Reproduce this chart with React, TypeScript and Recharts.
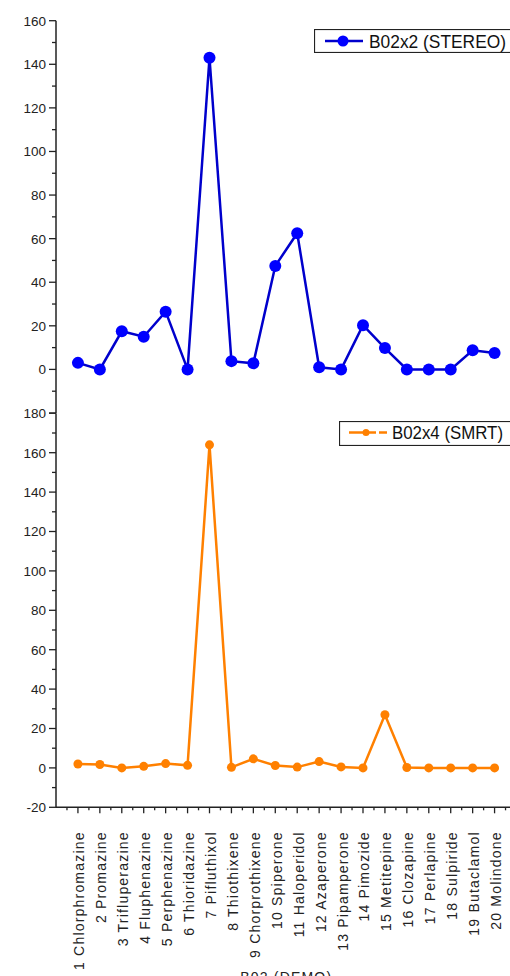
import React from 'react';
import { LineChart, Line, XAxis, YAxis, Legend } from 'recharts';

const categories = [
  '1 Chlorphromazine',
  '2 Promazine',
  '3 Trifluperazine',
  '4 Fluphenazine',
  '5 Perphenazine',
  '6 Thioridazine',
  '7 Pifluthixol',
  '8 Thiothixene',
  '9 Chorprothixene',
  '10 Spiperone',
  '11 Haloperidol',
  '12 Azaperone',
  '13 Pipamperone',
  '14 Pimozide',
  '15 Metitepine',
  '16 Clozapine',
  '17 Perlapine',
  '18 Sulpiride',
  '19 Butaclamol',
  '20 Molindone',
];

const stereoValues = [3, 0, 17.5, 15, 26.5, 0, 143, 3.8, 2.8, 47.5, 62.5, 1, 0, 20.3, 9.8, 0, 0, 0, 8.8, 7.5];
const smrtValues = [2, 1.7, 0, 0.8, 2.2, 1.3, 164, 0.3, 4.6, 1.2, 0.4, 3.2, 0.5, 0, 27, 0.2, 0, 0, 0, 0];

const stereoName = 'B02x2 (STEREO)';
const smrtName = 'B02x4 (SMRT)';
const xTitle = 'B02 (DEMO)';

const topYTicks = [-20, -10, 0, 10, 20, 30, 40, 50, 60, 70, 80, 90, 100, 110, 120, 130, 140, 150, 160];
const bottomYTicks = [-20, -10, 0, 10, 20, 30, 40, 50, 60, 70, 80, 90, 100, 110, 120, 130, 140, 150, 160, 170, 180];

const data = categories.map((name, i) => ({
  x: i + 1,
  name,
  stereo: stereoValues[i],
  smrt: smrtValues[i],
}));

const xTicks = [...categories.flatMap((_, i) => [i + 0.5, i + 1]), categories.length + 0.5];

const FONT = '"Liberation Sans", Arial, sans-serif';
const INK = '#222';
const BLUE_LINE = '#0000cc';
const BLUE = '#0000ff';
const ORANGE = '#ff8000';

const YTick = (props: any) => {
  const { x, y, payload, minLabel } = props;
  const v = payload.value;
  const major = v % 20 === 0;
  const len = major ? 7 : 4;
  const showLabel = major && v >= minLabel;
  return (
    <g>
      <line x1={x - len} x2={x} y1={y} y2={y} stroke={INK} strokeWidth={1.3} />
      {showLabel && (
        <text x={x - 10} y={y} dy="0.36em" textAnchor="end" fontSize={13.5} fontFamily={FONT} fill={INK}>
          {v}
        </text>
      )}
    </g>
  );
};

const XTick = (props: any) => {
  const { x, y, payload } = props;
  const v = payload.value;
  const major = Number.isInteger(v);
  const len = major ? 6 : 3;
  const label = major ? categories[v - 1] : undefined;
  return (
    <g>
      <line x1={x} x2={x} y1={y} y2={y + len} stroke={INK} strokeWidth={1.3} />
      {label && (
        <text
          x={x}
          y={y + 24}
          dy={6.5}
          textAnchor="end"
          transform={`rotate(-90, ${x}, ${y + 24})`}
          fontSize={14}
          letterSpacing={1.2}
          fontFamily={FONT}
          fill={INK}
        >
          {label}
        </text>
      )}
    </g>
  );
};

const LegendBox = (props: any) => {
  const { payload, variant } = props;
  const item = payload && payload[0];
  const name = item ? item.value : '';
  const color = variant === 'top' ? BLUE : ORANGE;
  const h = variant === 'top' ? 24 : 25;
  return (
    <svg width={230} height={h} style={{ display: 'block' }}>
      <rect x={0.5} y={0.5} width={229} height={h - 1} fill="#fff" stroke={INK} strokeWidth={1.2} />
      {variant === 'top' ? (
        <g>
          <line x1={11} x2={49} y1={12} y2={12} stroke={BLUE_LINE} strokeWidth={2.5} />
          <circle cx={29} cy={12} r={5.5} fill={color} />
          <text x={55} y={18.5} fontSize={18} fontFamily={FONT} fill="#111" textLength={137} lengthAdjust="spacingAndGlyphs">
            {name}
          </text>
        </g>
      ) : (
        <g>
          <line x1={10} x2={37} y1={11.5} y2={11.5} stroke={color} strokeWidth={2.5} />
          <line x1={40} x2={48} y1={11.5} y2={11.5} stroke={color} strokeWidth={2.5} />
          <circle cx={27} cy={11.5} r={3.5} fill={color} />
          <text x={53} y={18} fontSize={18} fontFamily={FONT} fill="#111" textLength={111} lengthAdjust="spacingAndGlyphs">
            {name}
          </text>
        </g>
      )}
    </svg>
  );
};

const CHART_W = 516.5;
const Y_AXIS_W = 56;

export default function App() {
  return (
    <div
      style={{
        position: 'fixed',
        left: 0,
        top: 0,
        width: 510,
        height: 976,
        overflow: 'hidden',
        background: '#fff',
      }}
    >
      <div style={{ position: 'absolute', left: 0, top: 0 }}>
        <LineChart width={CHART_W} height={413} data={data} margin={{ top: 20.7, right: 0, bottom: 0, left: 0 }}>
          <XAxis
            dataKey="x"
            type="number"
            domain={[0, 21]}
            orientation="top"
            height={0}
            tick={false}
            tickLine={false}
            axisLine={{ stroke: INK, strokeWidth: 1.5 }}
          />
          <YAxis
            type="number"
            domain={[-20, 160]}
            ticks={topYTicks}
            interval={0}
            width={Y_AXIS_W}
            tickSize={0}
            tickMargin={0}
            tickLine={false}
            axisLine={{ stroke: INK, strokeWidth: 1.5 }}
            tick={(p: any) => <YTick {...p} minLabel={0} />}
            allowDataOverflow
          />
          <Legend
            layout="horizontal"
            verticalAlign="middle"
            align="center"
            wrapperStyle={{ left: 314, top: 29, width: 230, height: 24 }}
            content={(p: any) => <LegendBox {...p} variant="top" />}
          />
          <Line
            type="linear"
            dataKey="stereo"
            name={stereoName}
            stroke={BLUE_LINE}
            strokeWidth={2.5}
            dot={{ r: 6, fill: BLUE, stroke: BLUE, strokeWidth: 0 }}
            isAnimationActive={false}
          />
        </LineChart>
      </div>
      <div style={{ position: 'absolute', left: 0, top: 400 }}>
        <LineChart width={CHART_W} height={600} data={data} margin={{ top: 13.3, right: 0, bottom: 0, left: 0 }}>
          <XAxis
            xAxisId="top"
            dataKey="x"
            type="number"
            domain={[0, 21]}
            orientation="top"
            height={0}
            tick={false}
            tickLine={false}
            axisLine={{ stroke: INK, strokeWidth: 1.5 }}
          />
          <XAxis
            dataKey="x"
            type="number"
            domain={[0, 21]}
            ticks={xTicks}
            interval={0}
            height={192.7}
            tickSize={0}
            tickMargin={0}
            tickLine={false}
            axisLine={{ stroke: INK, strokeWidth: 1.5 }}
            tick={(p: any) => <XTick {...p} />}
            label={{
              value: xTitle,
              position: 'insideTop',
              offset: 164.5,
              fontSize: 14,
              fontFamily: FONT,
              fill: INK,
              letterSpacing: 1.2,
            }}
          />
          <YAxis
            type="number"
            domain={[-20, 180]}
            ticks={bottomYTicks}
            interval={0}
            width={Y_AXIS_W}
            tickSize={0}
            tickMargin={0}
            tickLine={false}
            axisLine={{ stroke: INK, strokeWidth: 1.5 }}
            tick={(p: any) => <YTick {...p} minLabel={-20} />}
            allowDataOverflow
          />
          <Legend
            layout="horizontal"
            verticalAlign="middle"
            align="center"
            wrapperStyle={{ left: 339, top: 21, width: 230, height: 25 }}
            content={(p: any) => <LegendBox {...p} variant="bottom" />}
          />
          <Line
            type="linear"
            dataKey="smrt"
            name={smrtName}
            stroke={ORANGE}
            strokeWidth={2.5}
            dot={{ r: 4.5, fill: ORANGE, stroke: ORANGE, strokeWidth: 0 }}
            isAnimationActive={false}
          />
        </LineChart>
      </div>
    </div>
  );
}
